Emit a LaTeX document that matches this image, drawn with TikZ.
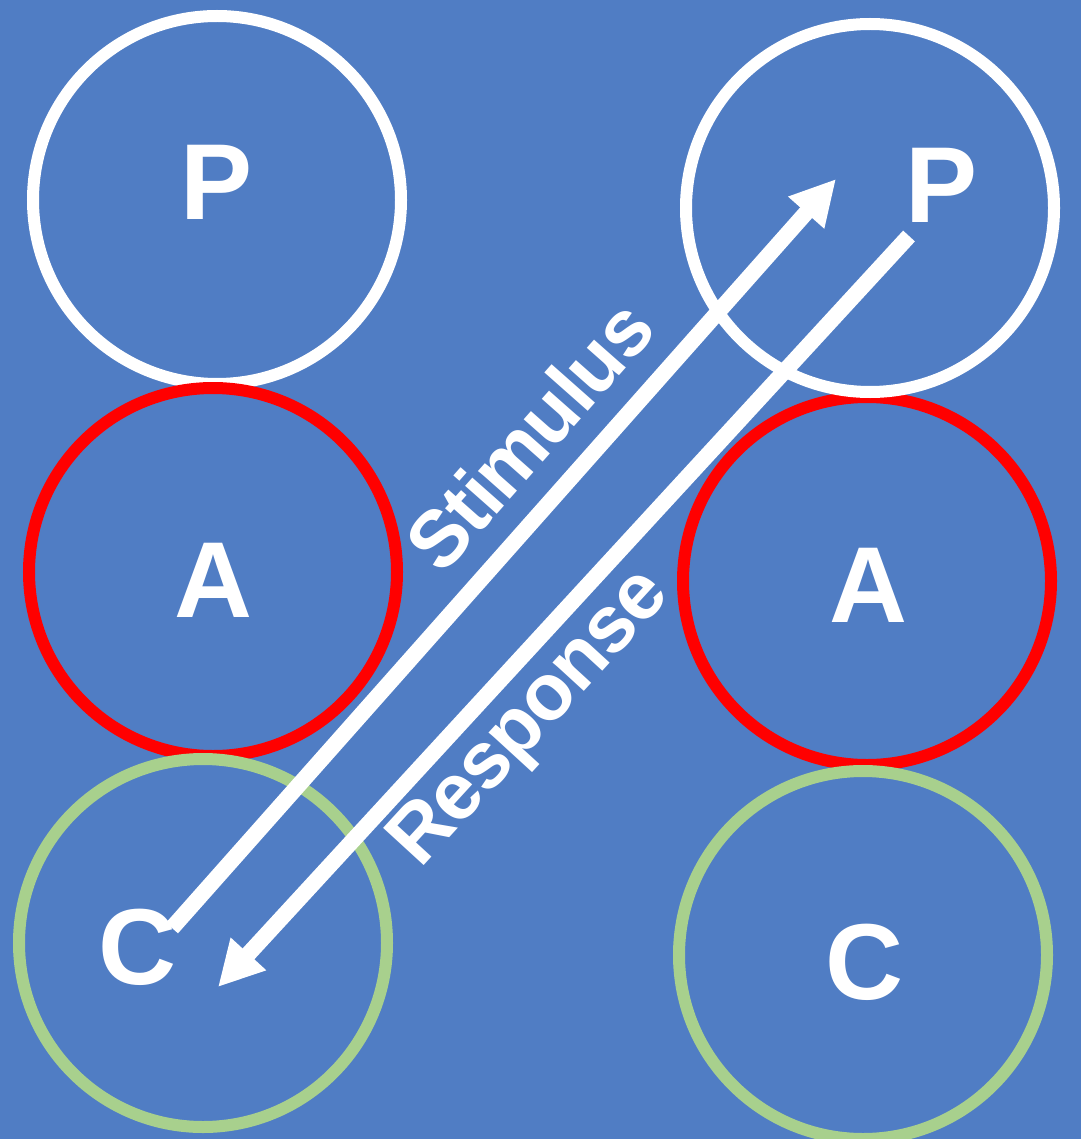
\documentclass[tikz,border=0pt]{standalone}
\usepackage{fontspec}
\setmainfont{Liberation Sans}
\usepackage{tikz}
\usetikzlibrary{arrows.meta}
\definecolor{slideblue}{RGB}{80,125,196}
\definecolor{ringgreen}{RGB}{168,208,141}
\tikzset{
  % ego state rings
  ring/.style={circle,draw,line width=6pt,minimum size=184pt,inner sep=0pt},
  pring/.style={ring,draw=white},
  aring/.style={ring,draw=red},
  cring/.style={ring,draw=ringgreen},
  letter/.style={white,font=\fontsize{54}{54}\selectfont\bfseries},
  % transaction arrows
  transarrow/.style={white,line width=8pt,-{Triangle[length=22.5pt,width=22.5pt]}},
  translabel/.style={white,font=\fontsize{40}{40}\selectfont\bfseries\addfontfeatures{LetterSpace=-2}},
}

\begin{document}
\begin{tikzpicture}[x=0.5pt,y=-0.5pt]
\fill[slideblue] (0,0) rectangle (1081,1139);
\useasboundingbox (0,0) rectangle (1081,1139);

%% left person: P, A, C from top to bottom
\node[pring] (lP) at (217,200) {};
\node[aring] (lA) at (213,572) {};
\node[cring] (lC) at (203,943) {};

%% right person (A under P)
\node[aring] (rA) at (867,581) {};
\node[pring] (rP) at (870,208) {};
\node[cring] (rC) at (863,955) {};

%% letters
\foreach \pos/\txt/\nm in {{(217,182)}/P/tlP, {(213,580)}/A/tlA, {(137,947)}/C/tlC,
                          {(942,185)}/P/trP, {(868,585)}/A/trA, {(864,962)}/C/trC}{
  \node[letter] (\nm) at \pos {\txt};
}

%% stimulus from C to P, response back
\coordinate (stimFrom) at (172,928);
\coordinate (stimTo) at (836,179);
\coordinate (respFrom) at (909,236);
\coordinate (respTo) at (218,987);
\draw[transarrow] (stimFrom) -- (stimTo);
\draw[transarrow] (respFrom) -- (respTo);

\node[translabel,rotate=48.5] (stim) at (529,435) {Stimulus};
\node[translabel,rotate=47.5] (resp) at (532,720) {Response};
\end{tikzpicture}
\end{document}
